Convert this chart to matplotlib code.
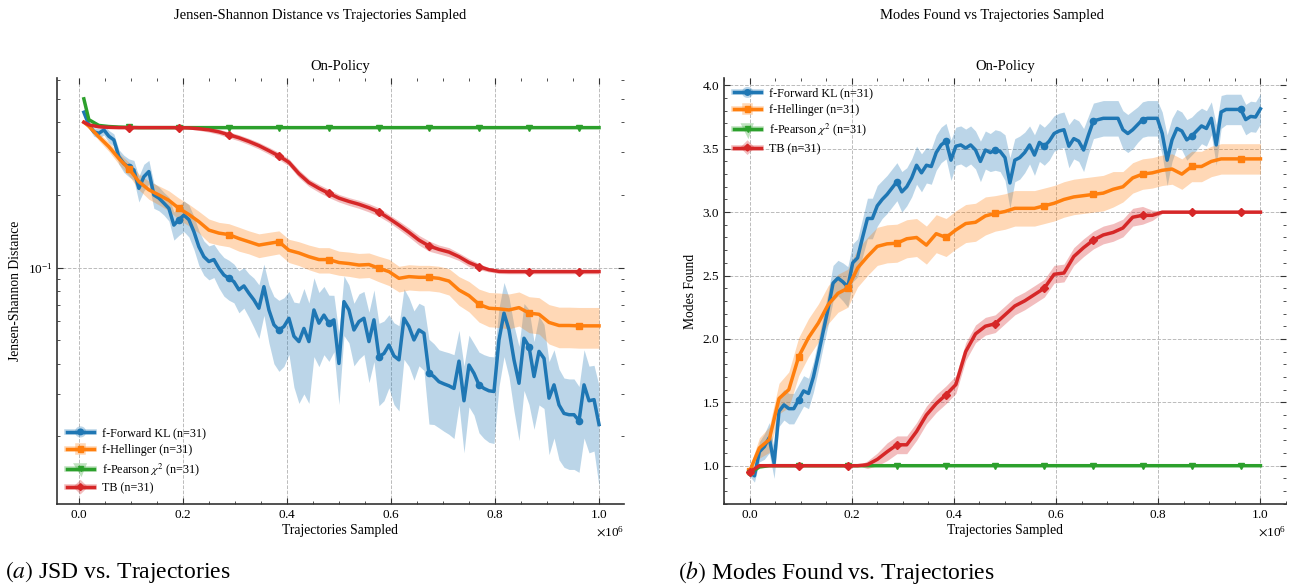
import numpy as np
import matplotlib
matplotlib.use("Agg")
import matplotlib.pyplot as plt
import matplotlib.patheffects as pe
from matplotlib.lines import Line2D
from matplotlib.ticker import ScalarFormatter, MultipleLocator

plt.rcParams.update({
    'font.family': 'serif',
    'font.serif': ['Liberation Serif', 'DejaVu Serif'],
    'mathtext.fontset': 'stix',
    'axes.linewidth': 1.0,
})

# ---------------- data ----------------
N_STEPS = 105
X = np.linspace(0, 1e6, N_STEPS)
IDX_L_FINE = np.arange(1, 105)
IDX_L_COARSE = np.r_[1, np.arange(2, 105, 2)]
IDX_R_FINE = np.arange(0, 105)
IDX_R_COARSE = np.arange(0, 105, 2)

labels = ['f-Forward KL (n=31)', 'f-Hellinger (n=31)', r'f-Pearson $\chi^2$ (n=31)', 'TB (n=31)']
colors = ['#1f77b4', '#ff7f0e', '#2ca02c', '#d62728']
markers = ['o', 's', 'v', 'D']

# Left: Jensen-Shannon distance
jsd_fkl = [0.44, 0.39, 0.365, 0.36, 0.372, 0.35, 0.338, 0.288, 0.27, 0.26,
           0.254, 0.213, 0.238, 0.25, 0.2, 0.194, 0.185, 0.176, 0.15, 0.158,
           0.165, 0.158, 0.141, 0.122, 0.111, 0.106, 0.108, 0.0994, 0.0932, 0.0903,
           0.0875, 0.081, 0.084, 0.0783, 0.0735, 0.0679, 0.0834, 0.0668, 0.058, 0.0552,
           0.057, 0.0617, 0.052, 0.0494, 0.056, 0.0494, 0.0668, 0.0589, 0.0636, 0.0589,
           0.0608, 0.0401, 0.0723, 0.0668, 0.0552, 0.0598, 0.0617, 0.0494, 0.0608, 0.0428,
           0.0441, 0.0478, 0.0431, 0.0415, 0.0617, 0.057, 0.0502, 0.0552, 0.0535, 0.0365,
           0.0354, 0.0337, 0.033, 0.0324, 0.0316, 0.041, 0.0281, 0.0395, 0.0365, 0.0327,
           0.0316, 0.0309, 0.0307, 0.0502, 0.0648, 0.0552, 0.0415, 0.0332, 0.051, 0.0471,
           0.0354, 0.045, 0.0421, 0.0288, 0.0327, 0.027, 0.0249, 0.0246, 0.0246, 0.0232,
           0.0327, 0.0281, 0.0284, 0.0224]
jsd_fkl_std = [0.01, 0.012, 0.015, 0.016, 0.018, 0.02, 0.02, 0.02, 0.022, 0.022,
               0.024, 0.026, 0.03, 0.028, 0.024, 0.022, 0.02, 0.02, 0.02, 0.022,
               0.024, 0.024, 0.022, 0.02, 0.018, 0.017, 0.017, 0.017, 0.017, 0.017,
               0.016, 0.016, 0.016, 0.016, 0.017, 0.017, 0.02, 0.018, 0.018, 0.018,
               0.018, 0.018, 0.02, 0.022, 0.026, 0.022, 0.024, 0.02, 0.02, 0.018,
               0.016, 0.013, 0.02, 0.018, 0.016, 0.018, 0.018, 0.016, 0.02, 0.016,
               0.016, 0.016, 0.016, 0.016, 0.02, 0.018, 0.016, 0.016, 0.016, 0.014,
               0.013, 0.012, 0.012, 0.012, 0.012, 0.014, 0.011, 0.013, 0.012, 0.012,
               0.012, 0.012, 0.012, 0.018, 0.022, 0.02, 0.016, 0.014, 0.02, 0.02,
               0.014, 0.018, 0.016, 0.012, 0.013, 0.011, 0.01, 0.01, 0.01, 0.009,
               0.013, 0.011, 0.011, 0.01]
jsd_hel = [0.40, 0.385, 0.348, 0.317, 0.283, 0.257, 0.227, 0.210, 0.200, 0.190,
           0.176, 0.166, 0.155, 0.143, 0.139, 0.137, 0.132, 0.128, 0.124, 0.126,
           0.128, 0.118, 0.115, 0.111, 0.108, 0.108, 0.105, 0.104, 0.1025, 0.103,
           0.0994, 0.0963, 0.0903, 0.0918, 0.0912, 0.0912, 0.0903, 0.088, 0.0808, 0.0766,
           0.0705, 0.0679, 0.0675, 0.0668, 0.0683, 0.0648, 0.0641, 0.0593, 0.0576, 0.0576,
           0.0574, 0.0574, 0.0574]
jsd_hel_std = [0.004, 0.008, 0.012, 0.014, 0.015, 0.016, 0.017, 0.018, 0.018, 0.018,
               0.018, 0.017, 0.016, 0.016, 0.015, 0.015, 0.015, 0.014, 0.014, 0.014,
               0.014, 0.013, 0.013, 0.013, 0.013, 0.013, 0.012, 0.012, 0.012, 0.012,
               0.012, 0.012, 0.011, 0.011, 0.011, 0.011, 0.011, 0.011, 0.011, 0.011,
               0.011, 0.011, 0.011, 0.011, 0.011, 0.011, 0.011, 0.011, 0.011, 0.011,
               0.011, 0.011, 0.011]
jsd_pea = [0.50, 0.41, 0.388, 0.384, 0.382, 0.381, 0.38, 0.38, 0.38, 0.38,
           0.38, 0.38, 0.38, 0.38, 0.38, 0.38, 0.38, 0.38, 0.38, 0.38,
           0.38, 0.38, 0.38, 0.38, 0.38, 0.38, 0.38, 0.38, 0.38, 0.38,
           0.38, 0.38, 0.38, 0.38, 0.38, 0.38, 0.38, 0.38, 0.38, 0.38,
           0.38, 0.38, 0.38, 0.38, 0.38, 0.38, 0.38, 0.38, 0.38, 0.38,
           0.38, 0.38, 0.38]
jsd_tb = [0.40, 0.39, 0.383, 0.381, 0.38, 0.38, 0.38, 0.38, 0.38, 0.38,
          0.38, 0.379, 0.376, 0.372, 0.365, 0.355, 0.345, 0.333, 0.32, 0.305,
          0.29, 0.273, 0.245, 0.225, 0.213, 0.203, 0.194, 0.188, 0.183, 0.177,
          0.17, 0.16, 0.15, 0.14, 0.13, 0.123, 0.119, 0.116, 0.111, 0.105,
          0.101, 0.098, 0.0965, 0.0963, 0.0963, 0.0963, 0.0963, 0.0963, 0.0963, 0.0963,
          0.0963, 0.0963, 0.0963]
jsd_tb_std = [0.003, 0.002, 0.002, 0.002, 0.002, 0.002, 0.002, 0.002, 0.002, 0.002,
              0.002, 0.004, 0.006, 0.008, 0.009, 0.01, 0.01, 0.01, 0.01, 0.01,
              0.01, 0.009, 0.009, 0.008, 0.008, 0.008, 0.007, 0.007, 0.007, 0.007,
              0.007, 0.006, 0.006, 0.006, 0.006, 0.006, 0.005, 0.005, 0.004, 0.004,
              0.003, 0.002, 0.002, 0.002, 0.002, 0.002, 0.002, 0.002, 0.002, 0.002,
              0.002, 0.002, 0.002]

# Right: modes found
modes_fkl = [0.95, 0.92, 1.11, 1.15, 1.22, 1.02, 1.43, 1.48, 1.45, 1.45,
             1.52, 1.59, 1.57, 1.70, 1.875, 2.06, 2.24, 2.44, 2.48, 2.45,
             2.41, 2.60, 2.64, 2.80, 2.95, 2.95, 3.05, 3.10, 3.14, 3.19,
             3.24, 3.16, 3.20, 3.27, 3.37, 3.31, 3.37, 3.36, 3.47, 3.53,
             3.56, 3.41, 3.52, 3.53, 3.505, 3.53, 3.49, 3.40, 3.49, 3.47,
             3.49, 3.48, 3.43, 3.23, 3.41, 3.43, 3.47, 3.53, 3.45, 3.55,
             3.52, 3.56, 3.62, 3.64, 3.65, 3.52, 3.58, 3.56, 3.49, 3.61,
             3.72, 3.73, 3.74, 3.74, 3.74, 3.74, 3.65, 3.62, 3.65, 3.69,
             3.73, 3.74, 3.74, 3.74, 3.62, 3.41, 3.57, 3.66, 3.64, 3.57,
             3.60, 3.64, 3.68, 3.66, 3.74, 3.53, 3.79, 3.81, 3.81, 3.81,
             3.81, 3.73, 3.755, 3.75, 3.815]
modes_fkl_std = [0.03, 0.05, 0.08, 0.1, 0.12, 0.12, 0.12, 0.12, 0.12, 0.12,
                 0.12, 0.12, 0.12, 0.12, 0.12, 0.12, 0.13, 0.14, 0.14, 0.15,
                 0.16, 0.15, 0.15, 0.15, 0.16, 0.16, 0.16, 0.15, 0.15, 0.15,
                 0.15, 0.16, 0.15, 0.15, 0.15, 0.15, 0.14, 0.14, 0.14, 0.14,
                 0.14, 0.16, 0.15, 0.15, 0.15, 0.15, 0.15, 0.16, 0.15, 0.15,
                 0.16, 0.16, 0.18, 0.2, 0.17, 0.17, 0.16, 0.15, 0.16, 0.15,
                 0.15, 0.15, 0.14, 0.14, 0.14, 0.17, 0.16, 0.16, 0.17, 0.15,
                 0.14, 0.14, 0.14, 0.14, 0.14, 0.14, 0.15, 0.15, 0.15, 0.14,
                 0.14, 0.14, 0.14, 0.14, 0.17, 0.2, 0.17, 0.15, 0.15, 0.16,
                 0.15, 0.15, 0.14, 0.14, 0.13, 0.16, 0.13, 0.12, 0.12, 0.12,
                 0.12, 0.12, 0.12, 0.12, 0.12]
modes_hel = [0.955, 1.14, 1.205, 1.53, 1.60, 1.86, 2.01, 2.125, 2.27, 2.36,
             2.40, 2.56, 2.65, 2.73, 2.75, 2.755, 2.79, 2.80, 2.74, 2.83,
             2.80, 2.86, 2.91, 2.92, 2.97, 2.99, 3.005, 3.03, 3.03, 3.03,
             3.05, 3.07, 3.10, 3.12, 3.13, 3.14, 3.15, 3.18, 3.20, 3.27,
             3.30, 3.31, 3.33, 3.34, 3.30, 3.36, 3.36, 3.40, 3.42, 3.42,
             3.42, 3.42, 3.42]
modes_hel_std = [0.03, 0.08, 0.1, 0.12, 0.14, 0.15, 0.15, 0.15, 0.15, 0.15,
                 0.15, 0.15, 0.15, 0.15, 0.15, 0.15, 0.15, 0.15, 0.15, 0.15,
                 0.15, 0.15, 0.15, 0.15, 0.15, 0.14, 0.14, 0.14, 0.14, 0.14,
                 0.14, 0.14, 0.14, 0.14, 0.14, 0.14, 0.14, 0.14, 0.12, 0.12,
                 0.12, 0.12, 0.12, 0.12, 0.12, 0.12, 0.12, 0.12, 0.12, 0.12,
                 0.12, 0.12, 0.12]
modes_pea = [0.94, 0.99, 1.0, 1.0, 1.0, 1.0, 1.0, 1.0, 1.0, 1.0,
             1.0, 1.0, 1.0, 1.0, 1.0, 1.0, 1.0, 1.0, 1.0, 1.0,
             1.0, 1.0, 1.0, 1.0, 1.0, 1.0, 1.0, 1.0, 1.0, 1.0,
             1.0, 1.0, 1.0, 1.0, 1.0, 1.0, 1.0, 1.0, 1.0, 1.0,
             1.0, 1.0, 1.0, 1.0, 1.0, 1.0, 1.0, 1.0, 1.0, 1.0,
             1.0, 1.0, 1.0]
modes_tb = [0.95, 1.0, 1.0, 1.0, 1.0, 1.0, 1.0, 1.0, 1.0, 1.0,
            1.0, 1.0, 1.008, 1.05, 1.11, 1.165, 1.165, 1.27, 1.40, 1.49,
            1.56, 1.64, 1.90, 2.04, 2.10, 2.12, 2.19, 2.26, 2.30, 2.35,
            2.40, 2.51, 2.52, 2.65, 2.72, 2.78, 2.82, 2.84, 2.875, 2.96,
            2.975, 2.975, 3.0, 3.0, 3.0, 3.0, 3.0, 3.0, 3.0, 3.0,
            3.0, 3.0, 3.0]
modes_tb_std = [0.03, 0.0, 0.0, 0.0, 0.0, 0.0, 0.0, 0.0, 0.0, 0.0,
                0.0, 0.0, 0.03, 0.05, 0.07, 0.07, 0.07, 0.07, 0.07, 0.07,
                0.07, 0.07, 0.07, 0.07, 0.07, 0.07, 0.07, 0.07, 0.07, 0.07,
                0.07, 0.07, 0.07, 0.07, 0.07, 0.07, 0.07, 0.07, 0.07, 0.07,
                0.07, 0.04, 0.01, 0.01, 0.01, 0.01, 0.01, 0.01, 0.01, 0.01,
                0.01, 0.01, 0.01]

# ---------------- figure ----------------
W, H = 1310, 584
fig = plt.figure(figsize=(W / 100, H / 100), dpi=100)
ax1 = fig.add_axes([57 / W, 1 - 504 / H, 567 / W, 426 / H])
ax2 = fig.add_axes([724 / W, 1 - 504 / H, 562 / W, 426 / H])


def draw(ax, idx, mean, std, k, mevery):
    x = X[idx]
    m = np.asarray(mean)
    if std is not None:
        s = np.asarray(std)
        ax.fill_between(x, m - s, m + s, color=colors[k], alpha=0.3, lw=0, zorder=2)
    ax.plot(x, m, color=colors[k], lw=2.5, marker=markers[k], ms=4.5 if k != 3 else 4,
            markevery=mevery, zorder=3)


# left
draw(ax1, IDX_L_FINE, jsd_fkl, jsd_fkl_std, 0, slice(9, None, 10))
draw(ax1, IDX_L_COARSE, jsd_hel, jsd_hel_std, 1, slice(5, None, 5))
draw(ax1, IDX_L_COARSE, jsd_pea, None, 2, slice(5, None, 5))
draw(ax1, IDX_L_COARSE, jsd_tb, jsd_tb_std, 3, slice(5, None, 5))
# right
draw(ax2, IDX_R_FINE, modes_fkl, modes_fkl_std, 0, slice(0, None, 10))
draw(ax2, IDX_R_COARSE, modes_hel, modes_hel_std, 1, slice(0, None, 5))
draw(ax2, IDX_R_COARSE, modes_pea, None, 2, slice(0, None, 5))
draw(ax2, IDX_R_COARSE, modes_tb, modes_tb_std, 3, slice(0, None, 5))

ax1.set_yscale('log')
ax1.set_ylim(0.0105, 0.61)
ax1.set_xlim(-0.042e6, 1.048e6)
ax2.set_ylim(0.698, 4.058)
ax2.set_xlim(-0.05e6, 1.05e6)
ax2.yaxis.set_major_locator(MultipleLocator(0.5))
ax2.yaxis.set_minor_locator(MultipleLocator(0.1))

for ax in (ax1, ax2):
    fmt = ScalarFormatter(useMathText=True)
    fmt.set_powerlimits((0, 0))
    ax.xaxis.set_major_formatter(fmt)
    ax.xaxis.set_major_locator(MultipleLocator(0.2e6))
    ax.xaxis.set_minor_locator(MultipleLocator(0.05e6))
    ax.tick_params(which='both', direction='in', top=True, right=True, labelsize=9.5,
                   color='#333333')
    ax.tick_params(which='major', length=4, width=0.8)
    ax.tick_params(which='minor', length=2, width=0.6)
    ax.xaxis.get_offset_text().set_fontsize(9.5)
    ax.spines['top'].set_visible(False)
    ax.spines['right'].set_visible(False)
    for sp in ('left', 'bottom'):
        ax.spines[sp].set_color('#333333')
        ax.spines[sp].set_linewidth(1.2)
    ax.grid(True, which='major', linestyle='--', color='#bbbbbb', linewidth=0.7, zorder=0)
    ax.set_axisbelow(True)
    ax.set_title('On-Policy', fontsize=10.5, pad=6)
    ax.set_xlabel('Trajectories Sampled', fontsize=9.8, labelpad=2)

ax1.set_ylabel('Jensen-Shannon Distance', fontsize=9.8)
ax2.set_ylabel('Modes Found', fontsize=9.8)

handles = []
for k in range(4):
    h = Line2D([], [], color=colors[k], lw=2.5, marker=markers[k], ms=4 if k != 3 else 3.5,
               path_effects=[pe.Stroke(linewidth=4, foreground=colors[k], alpha=0.3), pe.Normal()])
    handles.append(h)

for ax, loc in ((ax1, 'lower left'), (ax2, 'upper left')):
    ax.legend(handles, labels, loc=loc, frameon=False, fontsize=8.7, handlelength=2.3,
              labelspacing=0.4, borderaxespad=0.4, handletextpad=0.6)

fig.text(320 / W, 1 - 16 / H, 'Jensen-Shannon Distance vs Trajectories Sampled',
         ha='center', va='center', fontsize=10.5)
fig.text(992 / W, 1 - 16 / H, 'Modes Found vs Trajectories Sampled',
         ha='center', va='center', fontsize=10.5)

fig.text(5 / W, 1 - 572 / H, r'$\mathit{(a)}$ JSD vs. Trajectories',
         ha='left', va='center', fontsize=17)
fig.text(678 / W, 1 - 572 / H, r'$\mathit{(b)}$ Modes Found vs. Trajectories',
         ha='left', va='center', fontsize=17)

fig.savefig('out.png', dpi=100)
